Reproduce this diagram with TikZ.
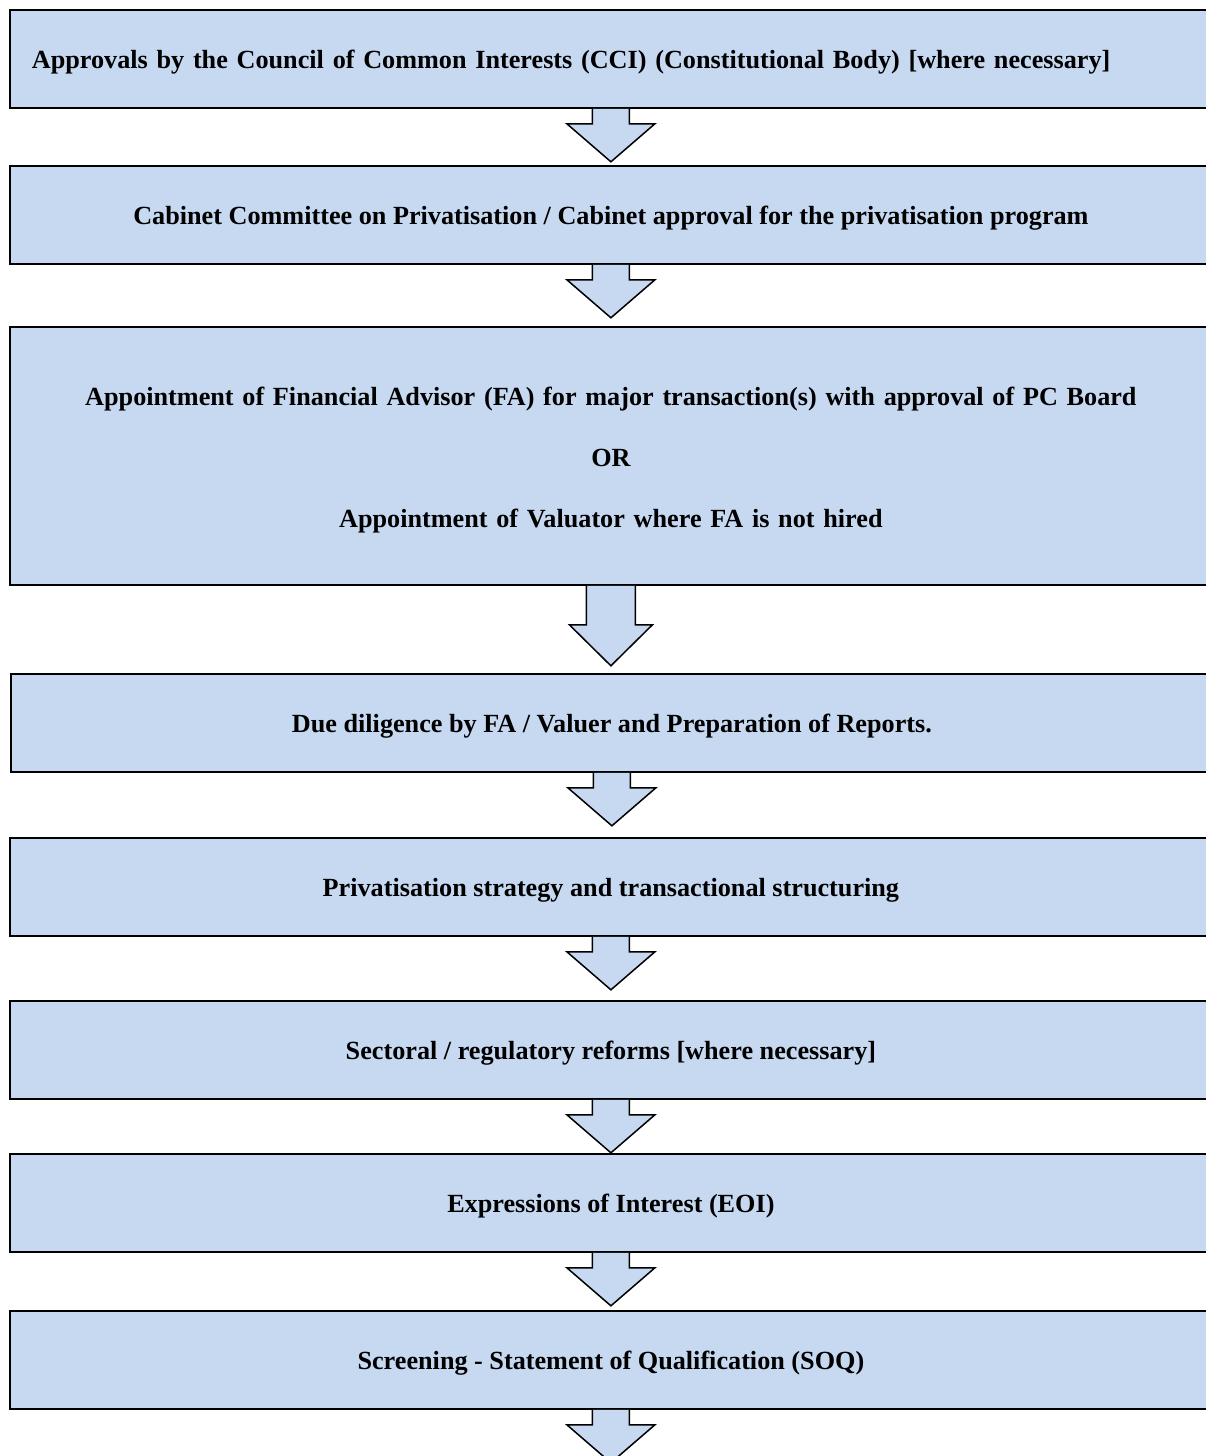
\documentclass[tikz,border=0pt]{standalone}
\usepackage{fontspec}
\setmainfont{Liberation Serif}
\definecolor{boxblue}{RGB}{198,217,241}
\newcommand{\dn}[1]{\raisebox{-3pt}[\height][\depth]{#1}}
\newcommand{\myarrow}[5]{% #1 node, #2 shaft half width, #3 shaft length, #4 head half width, #5 head length
  \draw[arrowstyle] ([xshift=-#2pt]#1.south) -- ++(0,#3) -- ++(-#4+#2,0) -- ++(#4,#5) -- ++(#4,-#5) -- ++(-#4+#2,0) -- ++(0,-#3);}
\begin{document}
\begin{tikzpicture}[x=1pt,y=-1pt,
  stepbox/.style={draw=black, line width=1.8pt, fill=boxblue, minimum width=1202pt,
    minimum height=98pt, inner sep=0pt, font=\fontsize{26.2}{31}\selectfont\bfseries, align=center, anchor=north west},
  arrowstyle/.style={draw=black, line width=1.5pt, fill=boxblue, line join=miter}]
\useasboundingbox (0,0) rectangle (1206,1456);
\clip (0,0) rectangle (1206,1456);
\fill[white] (0,0) rectangle (1206,1456);
\node[stepbox, text width=1158pt, align=left] (a) at (9,9) {\dn{Approvals by the Council of Common Interests (CCI) (Constitutional Body) [where necessary]}};
\node[stepbox] (b) at (9,165) {\dn{Cabinet Committee on Privatisation / Cabinet approval for the privatisation program}};
\node[stepbox, minimum height=258pt, text width=1180pt] (c) at (9,326) {\rule{0pt}{26pt}Appointment of Financial Advisor (FA) for major transaction(s) with approval of PC Board\\[30pt] OR\\[30pt] Appointment of Valuator where FA is not hired};
\node[stepbox] (d) at (10,673) {\dn{Due diligence by FA / Valuer and Preparation of Reports.}};
\node[stepbox] (e) at (9,837) {\dn{Privatisation strategy and transactional structuring}};
\node[stepbox] (f) at (9,1000) {\dn{Sectoral / regulatory reforms [where necessary]}};
\node[stepbox] (g) at (9,1153) {\dn{Expressions of Interest (EOI)}};
\node[stepbox] (h) at (9,1310) {\dn{Screening - Statement of Qualification (SOQ)}};
\myarrow{a}{18.5}{15}{44}{38}
\myarrow{b}{18.5}{15}{44}{38}
\myarrow{c}{24.5}{39}{41.5}{41}
\myarrow{d}{18.5}{15}{44}{38}
\myarrow{e}{18.5}{15}{44}{38}
\myarrow{f}{18.5}{15}{44}{38}
\myarrow{g}{18.5}{15}{44}{38}
\myarrow{h}{18.5}{15}{44}{38}
\end{tikzpicture}
\end{document}
